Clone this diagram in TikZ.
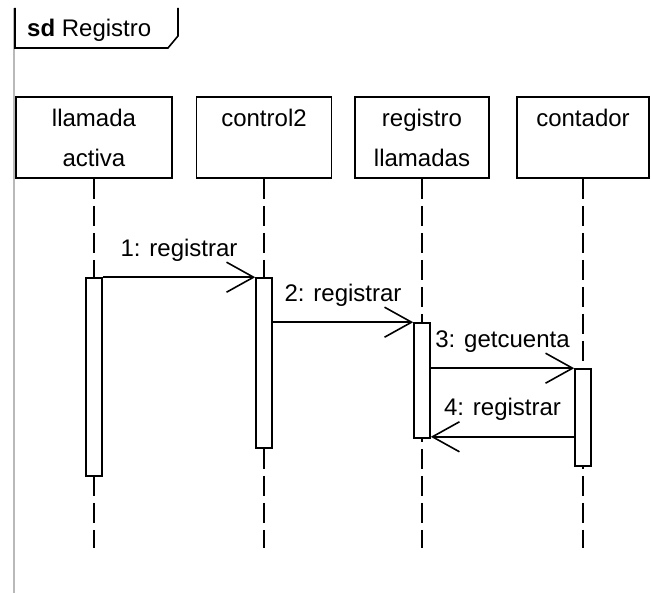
\documentclass[tikz,border=0pt]{standalone}
\usepackage{fontspec}
\setmainfont{Liberation Sans}
\usetikzlibrary{arrows.meta,positioning}

\begin{document}
\begin{tikzpicture}[x=1pt, y=-1pt,
      head/.style={draw, line width=1.6pt, fill=white, align=center, minimum height=81pt,
                   inner sep=0pt, font=\fontsize{24}{40}\selectfont},
      act/.style={draw, line width=1.6pt, fill=white, minimum width=16pt, inner sep=0pt},
      life/.style={line width=1.6pt, dash pattern=on 20pt off 7pt},
      msg/.style={line width=1.6pt, -{Straight Barb[length=27pt, width=30pt, line width=1.6pt]}},
      lbl/.style={anchor=base, yshift=21pt, font=\fontsize{24}{28}\selectfont}]
    \useasboundingbox (0,0) rectangle (651,593);
    % frame and tab
    \draw[gray!55, line width=2pt] (14,8) -- (14,593);
    \draw[line width=1.6pt] (15,8) -- (15,48) -- (168,48) -- (178,36) -- (178,8);
    \node[anchor=base west, inner sep=0pt, font=\fontsize{24}{28}\selectfont] (title) at (27,37) {\textbf{sd} Registro};
    % lifeline heads
    \node[head, minimum width=156pt] (h1) at (94,137.5) {llamada\\activa};
    \node[head, minimum width=135pt] (h2) at (264,137.5) {control2\\\mbox{}};
    \node[head, minimum width=134pt] (h3) at (422,137.5) {registro\\llamadas};
    \node[head, minimum width=132pt] (h4) at (583,137.5) {contador\\\mbox{}};
    % lifelines
    \foreach \i in {1,...,4}
      \draw[life] (h\i.south) -- ++(0,369);
    % activations
    \node[act, minimum height=198pt] (a1) at (94,377) {};
    \node[act, minimum height=170pt] (a2) at (264,363) {};
    \node[act, minimum height=115pt] (a3) at (422,380.5) {};
    \node[act, minimum height=97pt] (a4) at (583,417.5) {};
    % messages
    \draw[msg] (a1.north east) -- node[lbl] {1: registrar} (a2.north west);
    \draw[msg] (a2.east |- a3.north) -- node[lbl] {2: registrar} (a3.north west);
    \draw[msg] (a3.east |- a4.north) -- node[lbl] {3: getcuenta} (a4.north west);
    \draw[msg] ([yshift=2pt]a4.west |- a3.south) -- node[lbl] {4: registrar} ([yshift=2pt]a3.south east);
\end{tikzpicture}
\end{document}
